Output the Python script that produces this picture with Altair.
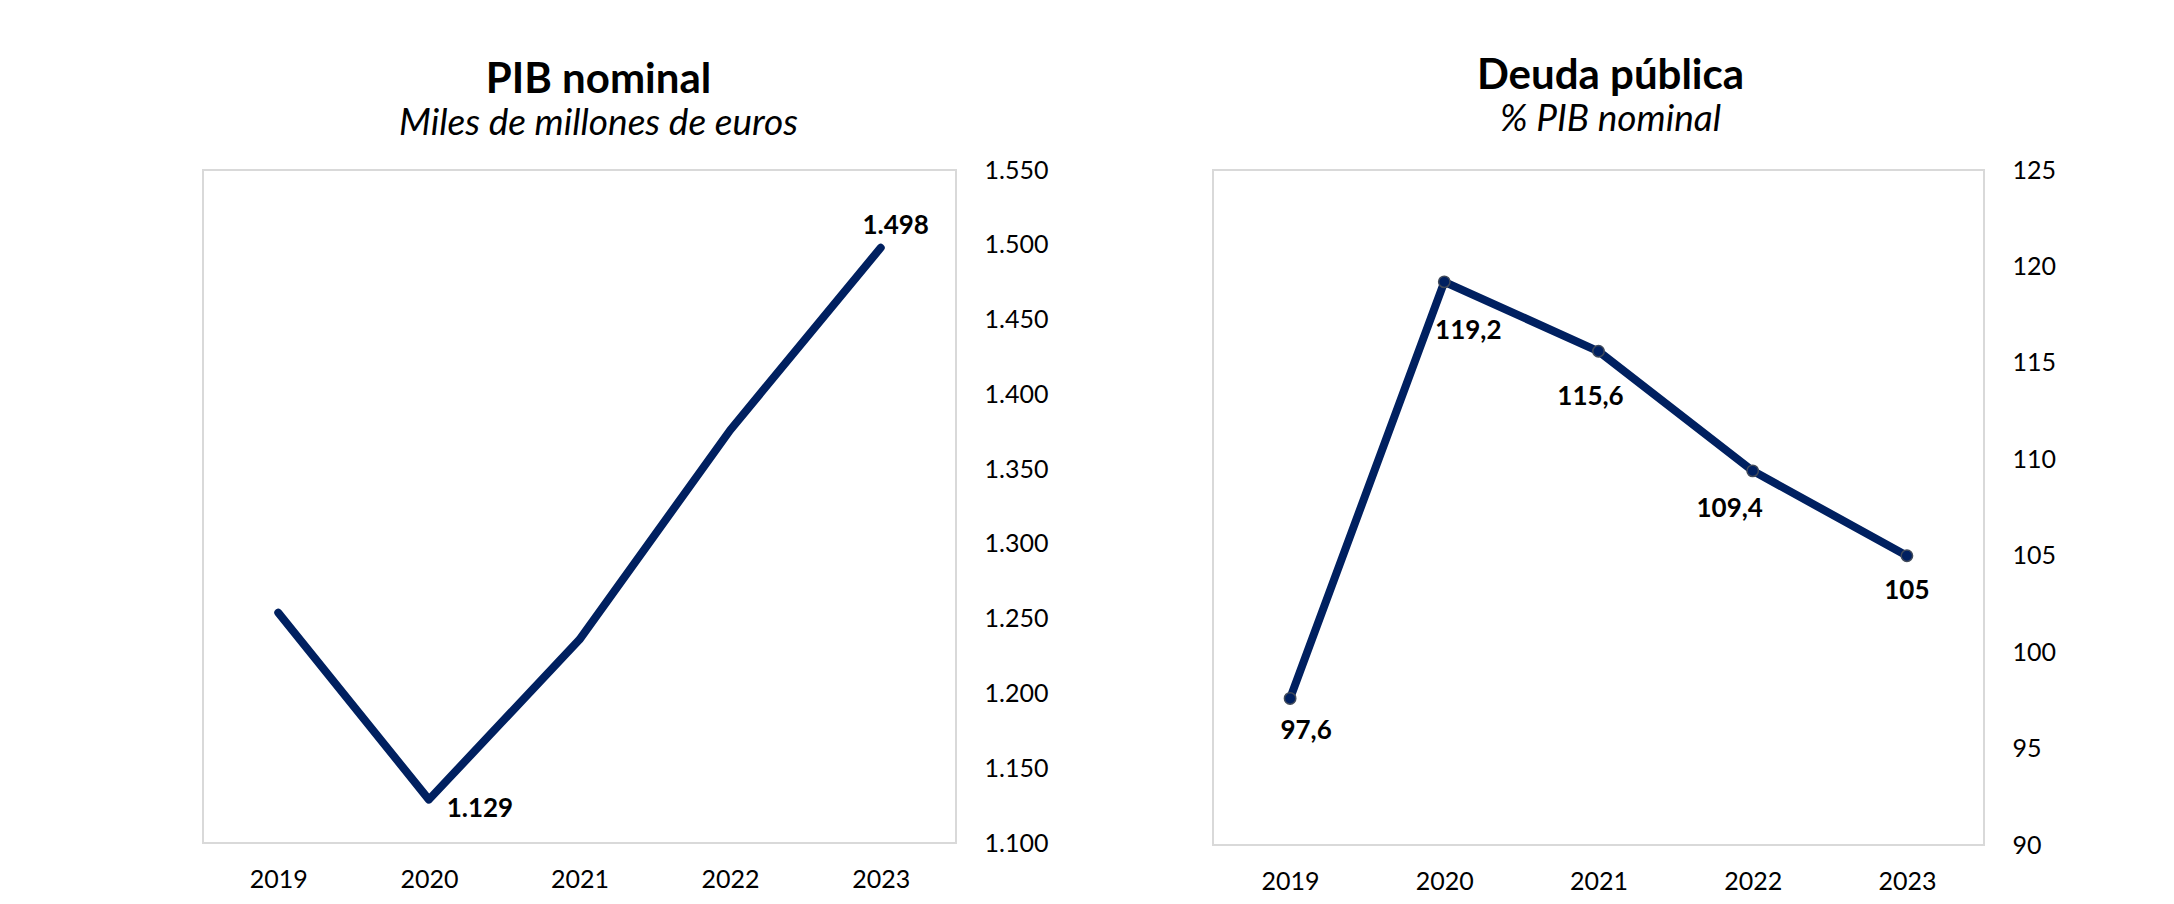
import altair as alt
import pandas as pd

# ---- data ----
years = ["2019", "2020", "2021", "2022", "2023"]
pib_values = [1254, 1129, 1236, 1376, 1498]
deuda_values = [97.6, 119.2, 115.6, 109.4, 105.0]
pib_ticks = [1100, 1150, 1200, 1250, 1300, 1350, 1400, 1450, 1500, 1550]
deuda_ticks = [90, 95, 100, 105, 110, 115, 120, 125]
pib_labelled_years = ["2020", "2023"]

FONT = "Lato"
NAVY = "#002060"


def fmt_pib(v):
    return f"{int(v):,}".replace(",", ".")


def fmt_deuda(v):
    s = f"{v:.1f}".replace(".", ",")
    return s[:-2] if s.endswith(",0") else s


df_pib = pd.DataFrame({"year": years, "value": pib_values})
df_pib["label"] = [fmt_pib(v) for v in pib_values]
df_deuda = pd.DataFrame({"year": years, "value": deuda_values})
df_deuda["label"] = [fmt_deuda(v) for v in deuda_values]


def x_enc():
    return alt.X(
        "year:O",
        scale=alt.Scale(type="point", padding=0.5),
        axis=alt.Axis(
            title=None, labelAngle=0, domain=False, ticks=False, grid=False,
            labelPadding=24, labelFontSize=25, labelFont=FONT, labelColor="black",
        ),
    )


def y_enc(domain, ticks, label_expr):
    return alt.Y(
        "value:Q",
        scale=alt.Scale(domain=domain, nice=False, zero=False),
        axis=alt.Axis(
            title=None, orient="right", values=ticks, labelExpr=label_expr,
            grid=False, domain=False, ticks=False, labelPadding=28,
            labelFontSize=25, labelFont=FONT, labelColor="black",
            minExtent=88, maxExtent=88,
        ),
    )


def label_layer(df, year, dx, dy, x, y):
    return (
        alt.Chart(df)
        .transform_filter(alt.datum.year == year)
        .mark_text(dx=dx, dy=dy, fontSize=26, fontWeight="bold", font=FONT,
                   color="black", align="center", baseline="middle")
        .encode(x=x, y=y, text="label:N")
    )


def make_title(text, subtitle, dx, offset):
    return alt.TitleParams(
        text=text, subtitle=subtitle,
        font=FONT, fontSize=42, fontWeight="bold", color="black",
        subtitleFont=FONT, subtitleFontSize=37, subtitleFontStyle="italic",
        subtitleColor="black", subtitlePadding=4,
        anchor="middle", frame="group", dx=dx, offset=offset,
    )


# ---- left chart: PIB nominal ----
xl = x_enc()
yl = y_enc([1100, 1550], pib_ticks, "replace(format(datum.value, ',d'), ',', '.')")
line_pib = alt.Chart(df_pib).mark_line(color=NAVY, strokeWidth=8, strokeCap="round",
                                         strokeJoin="round").encode(x=xl, y=yl)
pib_label_offsets = {"2020": (51, 9), "2023": (15, -22)}
pib_labels = [label_layer(df_pib, yr, *pib_label_offsets[yr], xl, yl) for yr in pib_labelled_years]

left = alt.layer(line_pib, *pib_labels).properties(
    width=753, height=673,
    title=make_title("PIB nominal", "Miles de millones de euros", 19, 15),
)

# ---- right chart: Deuda pública ----
xr = x_enc()
yr_ = y_enc([90, 125], deuda_ticks, "format(datum.value, 'd')")
line_deuda = alt.Chart(df_deuda).mark_line(color=NAVY, strokeWidth=8, strokeJoin="round").encode(x=xr, y=yr_)
pts_deuda = alt.Chart(df_deuda).mark_point(filled=True, shape="circle", size=130, fill=NAVY,
                                           stroke="#404a5a", strokeWidth=1.5, opacity=1).encode(x=xr, y=yr_)
deuda_label_offsets = {"2019": (16, 33), "2020": (24, 49), "2021": (-8, 46), "2022": (-23, 38), "2023": (0, 35)}
deuda_labels = [label_layer(df_deuda, yr, *deuda_label_offsets[yr], xr, yr_) for yr in years]

right = alt.layer(line_deuda, pts_deuda, *deuda_labels).properties(
    width=771, height=675,
    title=make_title("Deuda pública", "% PIB nominal", 12, 19),
)

chart = (
    alt.hconcat(left, right, spacing=163)
    .properties(padding={"left": 194, "top": 46, "right": 0, "bottom": 0}, background="white")
    .configure_view(stroke="#d9d9d9", strokeWidth=2)
)

chart.save("out.html", embed_options={"renderer": "svg", "actions": False})
